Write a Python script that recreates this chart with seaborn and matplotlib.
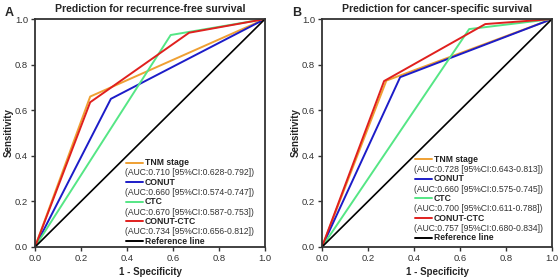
import seaborn as sns
import matplotlib.pyplot as plt
from matplotlib.lines import Line2D
import pandas as pd

# ROC points (1 - specificity, sensitivity)
models = ['TNM stage', 'CONUT', 'CTC', 'CONUT-CTC']
colors = ['#EFA033', '#1C1CC8', '#55E685', '#E0201E']

rfs_fpr = [[0, 0.24, 1], [0, 0.33, 1], [0, 0.59, 1], [0, 0.24, 0.67, 1]]
rfs_tpr = [[0, 0.66, 1], [0, 0.65, 1], [0, 0.93, 1], [0, 0.635, 0.94, 1]]
rfs_auc = ['AUC:0.710 [95%CI:0.628-0.792]', 'AUC:0.660 [95%CI:0.574-0.747]',
           'AUC:0.670 [95%CI:0.587-0.753]', 'AUC:0.734 [95%CI:0.656-0.812]']

css_fpr = [[0, 0.28, 1], [0, 0.34, 1], [0, 0.64, 1], [0, 0.27, 0.71, 1]]
css_tpr = [[0, 0.73, 1], [0, 0.745, 1], [0, 0.956, 1], [0, 0.728, 0.978, 1]]
css_auc = ['AUC:0.728 [95%CI:0.643-0.813]', 'AUC:0.660 [95%CI:0.575-0.745]',
           'AUC:0.700 [95%CI:0.611-0.788]', 'AUC:0.757 [95%CI:0.680-0.834]']

titles = ['Prediction for recurrence-free survival', 'Prediction for cancer-specific survival']
panel_tags = ['A', 'B']
ticks = [0.0, 0.2, 0.4, 0.6, 0.8, 1.0]

sns.set_theme(style='white')
plt.rcParams['font.family'] = ['Liberation Sans', 'DejaVu Sans']


def to_frame(fpr, tpr):
    rows = []
    for name, xs, ys in zip(models, fpr, tpr):
        for i, (x, y) in enumerate(zip(xs, ys)):
            rows.append({'model': name, 'order': i, 'fpr': x, 'tpr': y})
    return pd.DataFrame(rows)


def draw_panel(ax, fpr, tpr, aucs, title, tag, leg_x, leg_y):
    df = to_frame(fpr, tpr)
    sns.lineplot(data=df, x='fpr', y='tpr', hue='model', hue_order=models,
                 palette=colors, sort=False, estimator=None, units='model',
                 lw=1.4, legend=False, ax=ax)
    ax.plot([0, 1], [0, 1], color='black', lw=1.2)

    ax.set_xlim(0, 1)
    ax.set_ylim(0, 1)
    ax.set_xticks(ticks)
    ax.set_yticks(ticks)
    ax.set_xticklabels([f'{t:.1f}' for t in ticks])
    ax.set_yticklabels([f'{t:.1f}' for t in ticks])
    ax.tick_params(axis='both', direction='out', length=3, width=1,
                   colors='#333333', labelsize=6.8, pad=2, bottom=True, left=True)
    for sp in ax.spines.values():
        sp.set_color('#333333')
        sp.set_linewidth(1.3)
    ax.set_xlabel('1 - Specificity', fontsize=7, fontweight='bold', labelpad=3)
    ax.set_ylabel('Sensitivity', fontsize=7, fontweight='bold', labelpad=1)
    ax.set_title(title, fontsize=7.6, fontweight='bold', pad=5)
    ax.text(-0.13, 1.025, tag, transform=ax.transAxes, fontsize=9,
            fontweight='bold', ha='left', va='center')

    # legend laid out like the original: bold name, then AUC line below
    labels = models + ['Reference line']
    lcolors = colors + ['black']
    y = leg_y
    for i, (lab, c) in enumerate(zip(labels, lcolors)):
        ax.add_line(Line2D([leg_x + 0.006, leg_x + 0.08], [y, y], color=c, lw=1.4,
                           transform=ax.transAxes))
        ax.text(leg_x + 0.088, y, lab, transform=ax.transAxes, fontsize=6.2,
                fontweight='bold', va='center', ha='left', color='#222222')
        y -= 0.045
        if i < len(aucs):
            ax.text(leg_x, y, f'({aucs[i]})', transform=ax.transAxes, fontsize=6.2,
                    va='center', ha='left', color='#333333')
            y -= 0.041


fig = plt.figure(figsize=(5.59, 2.79), dpi=100)
ax1 = fig.add_axes([0.0626, 0.1147, 0.4114, 0.817])
ax2 = fig.add_axes([0.576, 0.1147, 0.4114, 0.817])

draw_panel(ax1, rfs_fpr, rfs_tpr, rfs_auc, titles[0], panel_tags[0], 0.39, 0.37)
draw_panel(ax2, css_fpr, css_tpr, css_auc, titles[1], panel_tags[1], 0.398, 0.385)

fig.savefig('out.png', dpi=100)
